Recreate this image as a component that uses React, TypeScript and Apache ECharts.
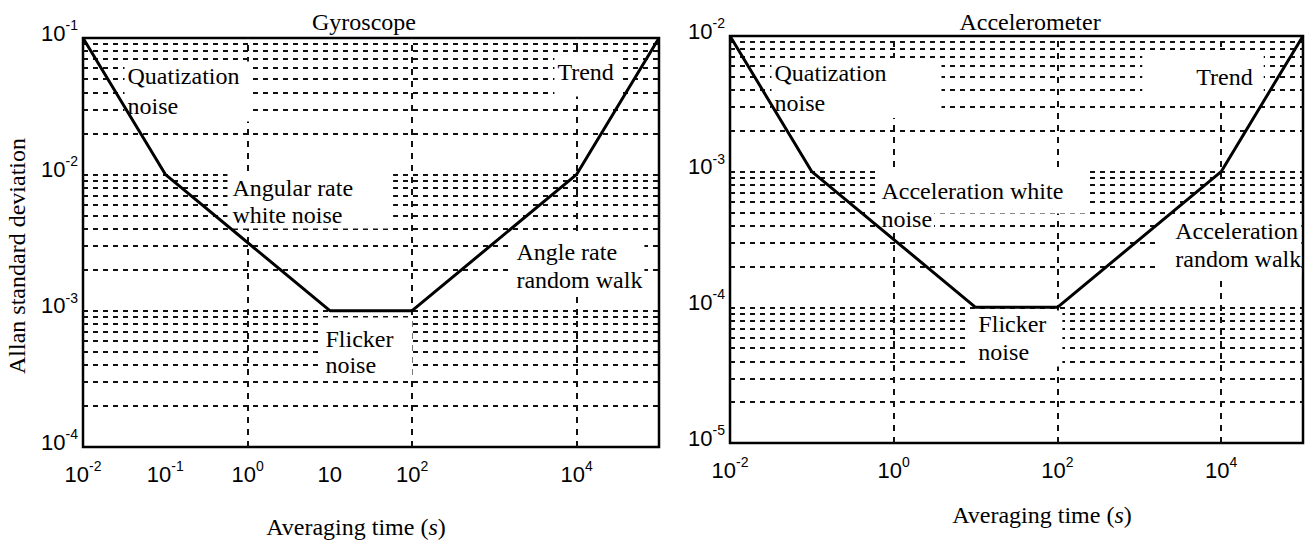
import { useEffect, useRef } from 'react';
import * as echarts from 'echarts';

// ---------- data ----------
const tau = [0.01, 0.1, 10, 100, 10000, 100000];
const gyroSigma = [0.1, 0.01, 0.001, 0.001, 0.01, 0.1];
const accelSigma = [0.01, 0.001, 0.0001, 0.0001, 0.001, 0.01];

const gyroXTickExps = [-2, -1, 0, 1, 2, 4];
const accelXTickExps = [-2, 0, 2, 4];
const gyroYTickExps = [-4, -3, -2, -1];
const accelYTickExps = [-5, -4, -3, -2];

const gyroGridDecades = [-4, -3, -2];
const accelGridDecades = [-5, -4, -3];
const gridMultipliers = [1, 2, 3, 4, 5, 6, 7, 8, 9];
const verticalGridTau = [1, 100, 10000];

type Note = { text: string; tau: number; sigma: number; lineHeight: number; padding: number[] };

const gyroNotes: Note[] = [
  { text: 'Quatization\nnoise', tau: 0.0324, sigma: 0.0667, lineHeight: 30, padding: [0, 10, 0, 3] },
  { text: 'Trend', tau: 5433, sigma: 0.0726, lineHeight: 24, padding: [4, 7, 12, 3] },
  { text: 'Angular rate\nwhite noise', tau: 0.578, sigma: 0.01022, lineHeight: 27, padding: [2, 40, 0, 5] },
  { text: 'Angle rate\nrandom walk', tau: 1632, sigma: 0.003526, lineHeight: 28, padding: [2, 2, 0, 5] },
  { text: 'Flicker\nnoise', tau: 7.58, sigma: 0.000882, lineHeight: 26, padding: [8, 19, 0, 6] },
];
const accelNotes: Note[] = [
  { text: 'Quatization\nnoise', tau: 0.03257, sigma: 0.006828, lineHeight: 30, padding: [0, 55, 0, 3] },
  { text: 'Trend', tau: 1103, sigma: 0.007752, lineHeight: 24, padding: [14, 11, 8, 54] },
  { text: 'Acceleration white', tau: 0.6065, sigma: 0.001029, lineHeight: 24, padding: [10, 23, 10, 6] },
  { text: 'noise', tau: 0.6785, sigma: 0.00054, lineHeight: 24, padding: [0, 2, 0, 2] },
  { text: 'Acceleration\nrandom walk', tau: 1636, sigma: 0.000456, lineHeight: 28, padding: [0, 0, 2, 19] },
  { text: 'Flicker\nnoise', tau: 8.283, sigma: 9.408e-5, lineHeight: 28, padding: [0, 16, 0, 10] },
];

// ---------- styles ----------
const SERIF = '"Liberation Serif", "Times New Roman", serif';
const SANS = '"Liberation Sans", Arial, sans-serif';
const INK = '#000';

const H_STYLE = { color: '#111', width: 2, type: [5, 5] as number[] };
const V_STYLE = { color: '#111', width: 2, type: [6, 6] as number[] };

function hGridValues(decades: number[]) {
  const vals: number[] = [];
  decades.forEach((d, i) => {
    gridMultipliers.forEach((k) => {
      if (i === 0 && k === 1) return;
      vals.push(k * Math.pow(10, d));
    });
  });
  return vals;
}

function tickLabel(exps: number[]) {
  return {
    show: true,
    formatter: (v: number) => {
      const e = Math.round(Math.log10(v));
      if (!exps.includes(e)) return '';
      return e === 1 ? '{b|10}' : `{b|10}{s|${e}}`;
    },
    rich: {
      b: { fontFamily: SANS, fontSize: 22, color: INK, lineHeight: 26, verticalAlign: 'bottom' },
      s: { fontFamily: SANS, fontSize: 14, color: INK, lineHeight: 14, verticalAlign: 'top' },
    },
  };
}

function plotSeries(idx: number, sigma: number[], decades: number[], notes: Note[]) {
  const curve = tau.map((t, i) => [t, sigma[i]]);
  return [
    {
      type: 'line',
      xAxisIndex: idx,
      yAxisIndex: idx,
      data: curve,
      symbol: 'none',
      silent: true,
      z: 1,
      lineStyle: { opacity: 0 },
      markLine: {
        silent: true,
        z: 1,
        precision: 12,
        symbol: ['none', 'none'],
        animation: false,
        label: { show: false },
        data: [
          ...hGridValues(decades).map((v) => ({ yAxis: v, lineStyle: H_STYLE })),
          ...verticalGridTau.map((v) => ({ xAxis: v, lineStyle: V_STYLE })),
        ],
      },
    },
    {
      type: 'scatter',
      xAxisIndex: idx,
      yAxisIndex: idx,
      silent: true,
      z: 2,
      symbolSize: 1,
      itemStyle: { color: 'rgba(0,0,0,0)' },
      label: {
        show: true,
        position: [0, 0],
        align: 'left',
        verticalAlign: 'top',
        fontFamily: SERIF,
        fontSize: 24,
        color: INK,
        opacity: 1,
        textBorderWidth: 0,
        textBorderColor: 'transparent',
        backgroundColor: '#fff',
      },
      data: notes.map((n) => ({
        value: [n.tau, n.sigma],
        label: { formatter: n.text, padding: n.padding, lineHeight: n.lineHeight },
      })),
    },
    {
      type: 'line',
      xAxisIndex: idx,
      yAxisIndex: idx,
      data: curve,
      symbol: 'none',
      silent: true,
      z: 3,
      lineStyle: { color: '#000', width: 3 },
    },
  ];
}

function textEl(text: string, x: number, y: number, extra: any = {}) {
  return {
    type: 'text',
    x,
    y,
    z: 10,
    ...extra,
    style: {
      text,
      font: `24px ${SERIF}`,
      fill: INK,
      align: 'center',
      verticalAlign: 'middle',
      textAlign: 'center',
      textVerticalAlign: 'middle',
      rich: {
        n: { fontFamily: SERIF, fontSize: 24, fill: INK },
        i: { fontFamily: SERIF, fontSize: 24, fill: INK, fontStyle: 'italic' },
      },
    },
  };
}

export default function App() {
  const ref = useRef<HTMLDivElement>(null);
  useEffect(() => {
    if (!ref.current) return;
    const chart = echarts.init(ref.current, undefined, { renderer: 'svg' });
    const xAxisBase = {
      type: 'log',
      logBase: 10,
      min: 0.01,
      max: 100000,
      axisLine: { show: false },
      axisTick: { show: false },
      splitLine: { show: false },
    };
    const yAxisBase = {
      type: 'log',
      logBase: 10,
      axisLine: { show: false },
      axisTick: { show: false },
      splitLine: { show: false },
    };
    chart.setOption({
      animation: false,
      backgroundColor: '#fff',
      grid: [
        { left: 83, top: 38, width: 576, height: 409, show: true, borderColor: '#000', borderWidth: 2.5, backgroundColor: 'transparent' },
        { left: 730, top: 36, width: 573, height: 407, show: true, borderColor: '#000', borderWidth: 2.5, backgroundColor: 'transparent' },
      ],
      xAxis: [
        { ...xAxisBase, gridIndex: 0, axisLabel: { ...tickLabel(gyroXTickExps), margin: 12 } },
        { ...xAxisBase, gridIndex: 1, axisLabel: { ...tickLabel(accelXTickExps), margin: 12 } },
      ],
      yAxis: [
        { ...yAxisBase, gridIndex: 0, min: 0.0001, max: 0.1, axisLabel: { ...tickLabel(gyroYTickExps), margin: 5, padding: [0, 0, 14, 0] } },
        { ...yAxisBase, gridIndex: 1, min: 0.00001, max: 0.01, axisLabel: { ...tickLabel(accelYTickExps), margin: 5, padding: [0, 0, 14, 0] } },
      ],
      series: [
        ...plotSeries(0, gyroSigma, gyroGridDecades, gyroNotes),
        ...plotSeries(1, accelSigma, accelGridDecades, accelNotes),
      ],
      graphic: [
        textEl('Gyroscope', 364, 22),
        textEl('Accelerometer', 1030, 22),
        textEl('{n|Averaging time (}{i|s}{n|)}', 356, 527),
        textEl('{n|Averaging time (}{i|s}{n|)}', 1042, 515),
        textEl('Allan standard deviation', 17, 256, { rotation: Math.PI / 2 }),
      ],
    });
    return () => chart.dispose();
  }, []);
  return <div ref={ref} style={{ position: 'fixed', left: 0, top: 0, width: 1309, height: 542 }} />;
}
